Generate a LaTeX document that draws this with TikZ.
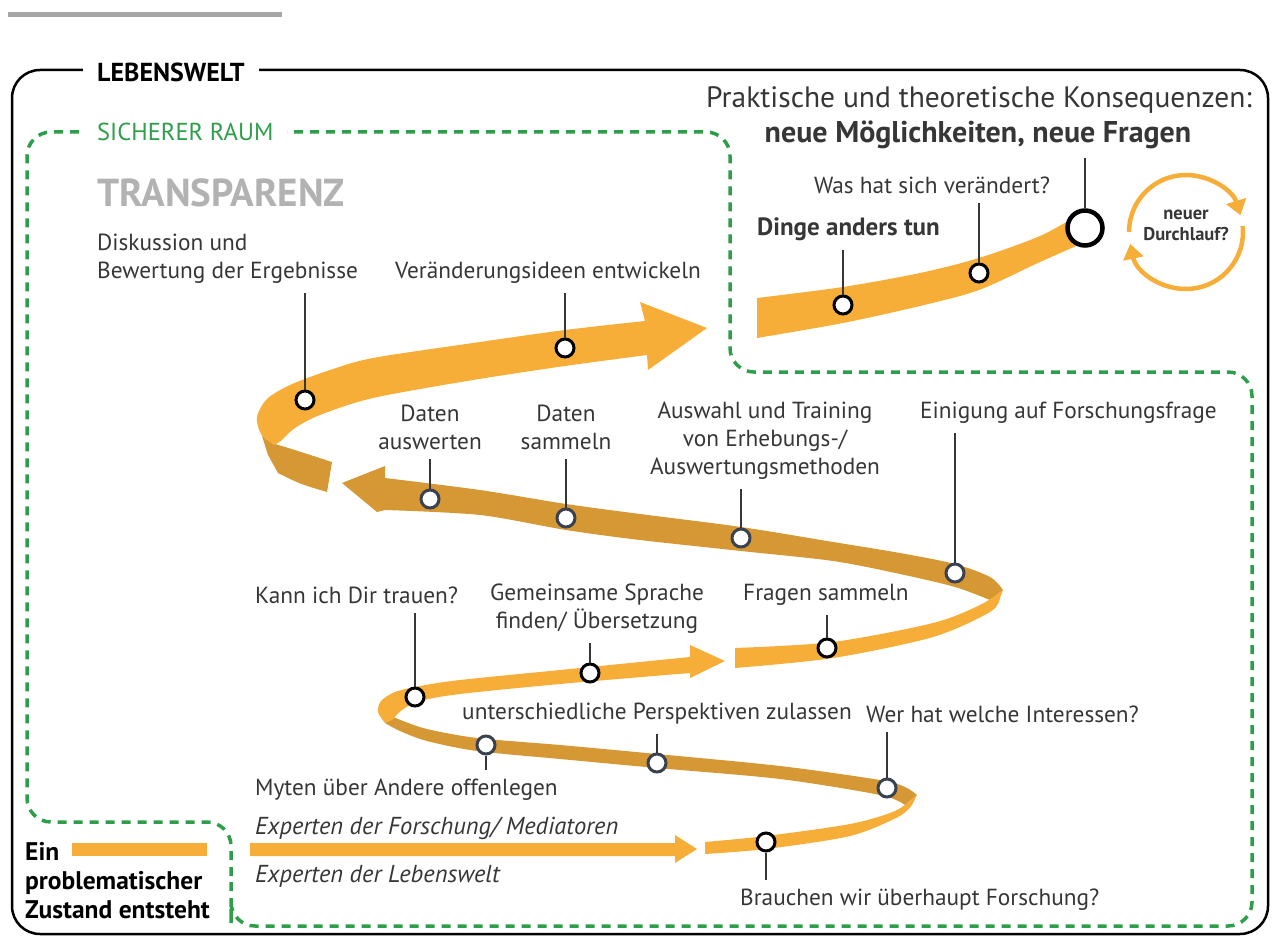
\documentclass[tikz,border=0pt]{standalone}
\usepackage{fontspec}
\setmainfont{PT Sans}
\usetikzlibrary{arrows.meta}
\definecolor{ribbonlight}{HTML}{F6AE38}
\definecolor{ribbondark}{HTML}{D69834}
\definecolor{raum}{HTML}{2E9E4A}
\definecolor{ink}{HTML}{363636}
\definecolor{rim}{HTML}{3A4250}

\begin{document}
\begin{tikzpicture}[x=1pt, y=-1pt, %pixel like coordinates, y goes down
  lbl/.style={text=ink, font=\fontsize{23.3}{28}\selectfont, inner xsep=0pt, inner ysep=9pt},
  stopdot/.style={circle, draw=black, fill=white, line width=3pt, minimum size=18pt, inner sep=0pt},
  backdot/.style={stopdot, draw=rim},
  goal/.style={circle, draw=black, fill=white, line width=4.5pt, minimum size=35pt, inner sep=0pt},
  leader/.style={draw=ink, line width=1.4pt},
  cyclearrow/.style={draw=ribbonlight, line width=4.5pt, -{Triangle[width=20pt,length=15pt]}}]

\useasboundingbox (0,0) rectangle (1274,936);
\fill[black!35] (8,12) rectangle (282,17);

% lebenswelt + sicherer raum
\draw[line width=2.5pt, rounded corners=28pt] (12,70) rectangle (1268,934);
\draw[raum, line width=3.5pt, dash pattern=on 9pt off 7pt, rounded corners=24pt]
  (231,900) -- (231,822) -- (27,822) -- (27,132) -- (730,132) -- (730,372)
  -- (1252,372) -- (1252,926) -- (231,926) -- cycle;
\node[fill=white, anchor=west, inner xsep=14pt, font=\fontsize{26}{30}\selectfont\bfseries] (lebenswelt) at (83,72) {LEBENSWELT};
\node[fill=white, anchor=west, inner xsep=14pt, text=raum, font=\fontsize{24.5}{28}\selectfont] (sicher) at (83,132) {SICHERER RAUM};
\node[anchor=west, inner xsep=0pt, text=black!30, font=\fontsize{39}{44}\selectfont\bfseries] (transparenz) at (97,193) {TRANSPARENZ};

% back sides first
\fill[ribbondark] plot[smooth] coordinates {(917,795) (905,787) (880,780) (780,766) (657,754) (560,745) (477,738) (427,729) (398,719) (383,712)}
  -- plot[smooth] coordinates {(385,723) (400,731) (427,741) (477,751) (560,759) (657,768) (780,779) (880,795) (905,805)} -- cycle;
\fill[ribbondark] plot[smooth] coordinates {(1003,590) (990,577) (955,564) (900,553) (833,542) (741,527) (640,514) (566,504) (480,490) (385,478)}
  -- (385,466) -- (342,483) -- (377,512) --
  plot[smooth] coordinates {(385,510) (480,515) (566,530) (640,540) (741,551) (833,561) (900,574) (955,587) (990,600)} -- cycle;
\fill[ribbondark] (262,436) -- (272,443) .. controls (295,450) .. (332,462) -- (327,492) .. controls (300,484) .. (278,473) -- (268,455) -- cycle;

% front sides
\fill[ribbonlight] (72,843) rectangle (207,856);
\fill[ribbonlight] (250,843) -- (675,843) -- (675,835) -- (697,849) -- (675,863) -- (675,856) -- (250,856) -- cycle;
\fill[ribbonlight] plot[smooth] coordinates {(705,842) (766,836) (850,824) (895,811) (917,795)}
  -- plot[smooth] coordinates {(912,805) (898,817) (850,836) (766,849) (705,854)} -- cycle;
\fill[ribbonlight] plot[smooth] coordinates {(385,723) (378,712) (381,701) (395,692) (420,686) (460,680) (560,670) (690,657)}
  -- (690,645) -- (725,661) -- (690,678) --
  plot[smooth] coordinates {(690,673) (560,684) (460,694) (420,701) (402,710) (392,720)} -- cycle;
\fill[ribbonlight] plot[smooth] coordinates {(735,648) (833,642) (933,623) (980,605) (1003,590)}
  -- plot[smooth] coordinates {(1000,598) (990,612) (933,637) (833,658) (735,668)} -- cycle;
\fill[ribbonlight] plot[smooth] coordinates {(274,445) (261,434) (257,417) (267,399) (290,385) (330,370) (373,358) (473,343) (565,330) (645,321)}
  -- (640,302) -- (707,328) -- (648,370) --
  plot[smooth] coordinates {(647,355) (565,366) (473,380) (373,398) (320,415) (295,428) (281,441)} -- cycle;
\fill[ribbonlight] plot[smooth] coordinates {(757,298) (843,287) (920,273) (979,258) (1040,236) (1078,215)}
  -- plot[smooth] coordinates {(1090,240) (1040,262) (979,290) (920,306) (843,323) (757,338)} -- cycle;

% texts
\node[lbl, anchor=west, align=left] (disk) at (97,259) {Diskussion und\\Bewertung der Ergebnisse};
\node[lbl, anchor=west] (ideen) at (395,273) {Veränderungsideen entwickeln};
\node[lbl, font=\fontsize{29.5}{34}\selectfont] (prakt) at (979,100) {Praktische und theoretische Konsequenzen:};
\node[lbl, font=\fontsize{30}{34}\selectfont\bfseries] (neue) at (978,135) {neue Möglichkeiten, neue Fragen};
\node[lbl] (was) at (932,185) {Was hat sich verändert?};
\node[lbl, anchor=west, font=\fontsize{25}{28}\selectfont\bfseries] (dinge) at (757,229) {Dinge anders tun};
\node[lbl, align=center, font=\fontsize{18.5}{21}\selectfont\bfseries] (neuer) at (1186,225) {neuer\\Durchlauf?};
\node[lbl, align=center] (auswerten) at (430,427) {Daten\\auswerten};
\node[lbl, align=center] (sammeln) at (566,427) {Daten\\sammeln};
\node[lbl, align=center] (auswahl) at (765,441) {Auswahl und Training\\von Erhebungs-/\\Auswertungsmethoden};
\node[lbl, anchor=west] (einigung) at (920,413) {Einigung auf Forschungsfrage};
\node[lbl, anchor=west] (trauen) at (255,595) {Kann ich Dir trauen?};
\node[lbl, align=center] (sprache) at (597,609) {Gemeinsame Sprache\\finden/ Übersetzung};
\node[lbl, anchor=west] (fragen) at (743,595) {Fragen sammeln};
\node[lbl, anchor=west] (perspektiven) at (462,714) {unterschiedliche Perspektiven zulassen};
\node[lbl, anchor=west] (interessen) at (866,714) {Wer hat welche Interessen?};
\node[lbl, anchor=west] (myten) at (255,790) {Myten über Andere offenlegen};
\node[lbl, anchor=west, font=\fontsize{24.5}{28}\selectfont\itshape] (forschung) at (255,828) {Experten der Forschung/ Mediatoren};
\node[lbl, anchor=west, font=\fontsize{24.5}{28}\selectfont\itshape] (lebensexp) at (255,876) {Experten der Lebenswelt};
\node[lbl, anchor=west] (brauchen) at (740,900) {Brauchen wir überhaupt Forschung?};
\node[lbl, anchor=west, align=left, text=black, font=\fontsize{25.5}{29}\selectfont\bfseries] (zustand) at (25,881) {Ein\\problematischer\\Zustand entsteht};

% stations
\node[stopdot] (c1) at (305,400) {};
\node[stopdot] (c2) at (565,348) {};
\node[stopdot] (c3) at (843,305) {};
\node[stopdot] (c4) at (979,273) {};
\node[goal] (cgoal) at (1085,228) {};
\node[backdot] (c5) at (430,499) {};
\node[backdot] (c6) at (566,518) {};
\node[backdot] (c7) at (741,538) {};
\node[backdot] (c8) at (955,573) {};
\node[stopdot] (c9) at (415,697) {};
\node[stopdot] (c10) at (590,673) {};
\node[stopdot] (c11) at (827,648) {};
\node[backdot] (c12) at (486,745) {};
\node[backdot] (c13) at (657,763) {};
\node[backdot] (c14) at (887,788) {};
\node[stopdot] (c15) at (766,842) {};

\draw[leader] (c1) -- (c1 |- disk.south);
\draw[leader] (c2) -- (c2 |- ideen.south);
\draw[leader] (c3) -- (c3 |- dinge.south);
\draw[leader] (c4) -- (c4 |- was.south);
\draw[leader] (cgoal) -- (cgoal |- neue.south);
\draw[leader] (c5) -- (c5 |- auswerten.south);
\draw[leader] (c6) -- (c6 |- sammeln.south);
\draw[leader] (c7) -- (c7 |- auswahl.south);
\draw[leader] (c8) -- (c8 |- einigung.south);
\draw[leader] (c9) -- (c9 |- trauen.south);
\draw[leader] (c10) -- (c10 |- sprache.south);
\draw[leader] (c11) -- (c11 |- fragen.south);
\draw[leader] (c12) -- (c12 |- myten.north);
\draw[leader] (c13) -- (c13 |- perspektiven.south);
\draw[leader] (c14) -- (c14 |- interessen.south);
\draw[leader] (c15) -- (c15 |- brauchen.north);

% neuer durchlauf
\draw[cyclearrow] (1186,232) ++(180:57) arc[start angle=180, end angle=343, radius=57];
\draw[cyclearrow] (1186,232) ++(-6:57) arc[start angle=-6, end angle=168, radius=57];
\end{tikzpicture}
\end{document}
